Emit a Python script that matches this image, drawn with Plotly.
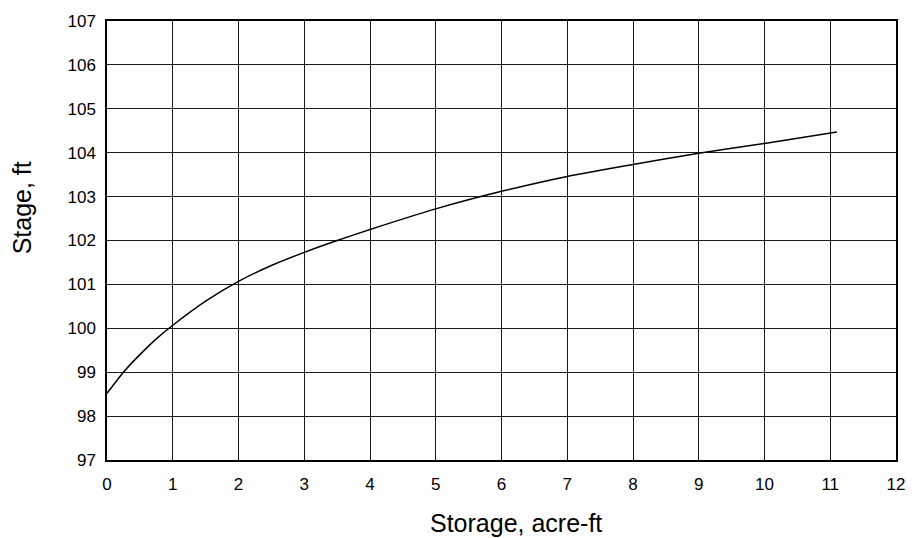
import plotly.graph_objects as go

# Stage-storage relationship
storage_acre_ft = [0, 0.25, 0.5, 0.75, 1, 1.5, 2, 2.5, 3, 3.5, 4, 5, 6, 7, 8, 9, 10, 11.1]
stage_ft = [98.52, 99.0, 99.4, 99.76, 100.07, 100.62, 101.07, 101.43, 101.73,
            102.0, 102.25, 102.72, 103.12, 103.46, 103.73, 103.99, 104.21, 104.47]

x_ticks = list(range(0, 13))
y_ticks = list(range(97, 108))

font_family = "Liberation Sans, Arial, sans-serif"

fig = go.Figure()
fig.add_trace(go.Scatter(
    x=storage_acre_ft, y=stage_ft, mode="lines",
    line=dict(color="black", width=1.5, shape="spline", smoothing=0.5),
    hoverinfo="skip", showlegend=False,
))

axis_common = dict(
    showgrid=True, gridcolor="#1a1a1a", gridwidth=1,
    showline=True, linecolor="black", linewidth=1.5, mirror=True,
    zeroline=False, ticks="outside", tickcolor="rgba(0,0,0,0)",
    tickfont=dict(family=font_family, size=17, color="black"),
)

fig.update_xaxes(range=[0, 12], tickvals=x_ticks, ticklen=8, **axis_common)
fig.update_yaxes(range=[97, 107], tickvals=y_ticks, ticklen=6, **axis_common)

fig.update_layout(
    width=917, height=538,
    margin=dict(l=107, r=20, t=17, b=78),
    paper_bgcolor="white", plot_bgcolor="white",
    font=dict(family=font_family, color="black"),
    annotations=[
        dict(text="Storage, acre-ft", xref="paper", yref="paper", x=0.518, y=-0.143,
             xanchor="center", yanchor="middle", showarrow=False,
             font=dict(family=font_family, size=25, color="black")),
        dict(text="Stage, ft", xref="paper", yref="paper", x=-0.108, y=0.575,
             xanchor="center", yanchor="middle", showarrow=False, textangle=-90,
             font=dict(family=font_family, size=25, color="black")),
    ],
)

fig.write_html("out.html")
